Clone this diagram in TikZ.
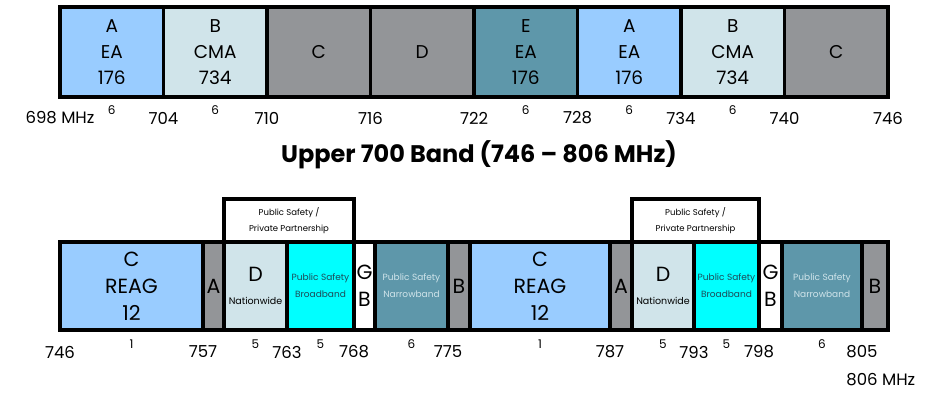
\documentclass[tikz,border=0pt]{standalone}
\usepackage{fontspec}
\setmainfont{Poppins}
\usepackage{tikz}
\usetikzlibrary{positioning,calc}
\definecolor{SkyBlue}{RGB}{153,204,255}
\definecolor{PaleBlue}{RGB}{208,228,234}
\definecolor{BandGray}{RGB}{147,149,152}
\definecolor{DeepTeal}{RGB}{94,151,170}
\definecolor{DarkTeal}{RGB}{30,75,88}
\definecolor{BrightCyan}{RGB}{0,255,255}
\tikzset{
  blk/.style={draw=black,line width=3.2pt,outer sep=0pt,inner sep=0pt,
    minimum height=90,align=center,font=\fontsize{18.5}{26}\selectfont},
  lowblk/.style={blk,minimum height=88,font=\fontsize{20.5}{27}\selectfont},
  psbox/.style={lowblk,font=\fontsize{9}{17}\selectfont},
  pp/.style={draw=black,line width=3.2pt,outer sep=0pt,inner sep=0pt,
    fill=white,minimum height=43,align=center,font=\fontsize{8.5}{16}\selectfont},
  freq/.style={inner sep=0pt,font=\fontsize{16.5}{16.5}\selectfont},
  bw/.style={inner sep=0pt,font=\fontsize{12}{12}\selectfont},
  ttl/.style={inner sep=0pt,font=\fontsize{24}{24}\selectfont\bfseries},
  rim/.style={draw=black,line width=4pt}
}
\begin{document}
\begin{tikzpicture}[x=1pt,y=-1pt,node distance=0pt]
  \useasboundingbox (0,0) rectangle (944,392);
  % lower 700 band
  \node[blk,fill=SkyBlue,minimum width=103.5] (ta1) at (111.75,52) {A\\EA\\176};
  \node[blk,fill=PaleBlue,minimum width=103.5,right=of ta1] (tb1) {B\\CMA\\734};
  \node[blk,fill=BandGray,minimum width=103.5,right=of tb1] (tc1) {C};
  \node[blk,fill=BandGray,minimum width=103.5,right=of tc1] (td1) {D};
  \node[blk,fill=DeepTeal,minimum width=103.5,right=of td1] (te) {E\\EA\\176};
  \node[blk,fill=SkyBlue,minimum width=103.5,right=of te] (ta2) {A\\EA\\176};
  \node[blk,fill=PaleBlue,minimum width=103.5,right=of ta2] (tb2) {B\\CMA\\734};
  \node[blk,fill=BandGray,minimum width=103.5,right=of tb2] (tc2) {C};
  \draw[rim] (ta1.north west) rectangle (tc2.south east);
  \foreach \n/\f in {ta1/698 MHz,tb1/704,tc1/710,td1/716,te/722,ta2/728,tb2/734,tc2/740}
    \node[freq,yshift=-21pt] at (\n.south west) {\f};
  \node[freq,yshift=-21pt] at (tc2.south east) {746};
  \foreach \n in {ta1,tb1,te,ta2,tb2}
    \node[bw,yshift=-13pt] at (\n.south) {6};

  \node[ttl] (title) at (479,155) {Upper 700 Band (746 – 806 MHz)};

  % upper 700 band
  \node[lowblk,fill=SkyBlue,minimum width=143] (bc1) at (131.5,286) {C\\REAG\\12};
  \node[lowblk,fill=BandGray,minimum width=21,right=of bc1] (ba1) {A};
  \node[lowblk,fill=PaleBlue,minimum width=63,right=of ba1] (bd1)
    {D\\[-4pt]{\fontsize{9.5}{10}\selectfont Nationwide}};
  \node[psbox,fill=BrightCyan,text=DarkTeal,minimum width=67,right=of bd1] (bp1)
    {Public Safety\\Broadband};
  \node[lowblk,fill=white,minimum width=21,right=of bp1] (bg1) {G\\B};
  \node[psbox,fill=DeepTeal,text=PaleBlue,minimum width=73,right=of bg1] (bn1)
    {Public Safety\\Narrowband};
  \node[lowblk,fill=BandGray,minimum width=22,right=of bn1] (bb1) {B};
  \node[lowblk,fill=SkyBlue,minimum width=140,right=of bb1] (bc2) {C\\REAG\\12};
  \node[lowblk,fill=BandGray,minimum width=22,right=of bc2] (ba2) {A};
  \node[lowblk,fill=PaleBlue,minimum width=62,right=of ba2] (bd2)
    {D\\[-4pt]{\fontsize{9.5}{10}\selectfont Nationwide}};
  \node[psbox,fill=BrightCyan,text=DarkTeal,minimum width=65,right=of bd2] (bp2)
    {Public Safety\\Broadband};
  \node[lowblk,fill=white,minimum width=23,right=of bp2] (bg2) {G\\B};
  \node[psbox,fill=DeepTeal,text=PaleBlue,minimum width=80,right=of bg2] (bn2)
    {Public Safety\\Narrowband};
  \node[lowblk,fill=BandGray,minimum width=26,right=of bn2] (bb2) {B};
  \draw[rim] (bc1.north west) rectangle (bb2.south east);

  % partnership boxes
  \node[pp,minimum width=130,anchor=south west] (pp1) at (bd1.north west)
    {Public Safety /\\Private Partnership};
  \node[pp,minimum width=127,anchor=south west] (pp2) at (bd2.north west)
    {Public Safety /\\Private Partnership};

  \node[freq,yshift=-22pt] at (bc1.south west) {746};
  \foreach \n/\f in {bc1/757,bd1/763,bp1/768,bn1/775,bc2/787,bd2/793,bp2/798}
    \node[freq,yshift=-22pt] at (\n.south east) {\f};
  \node[freq,yshift=-22pt] (f805) at (bn2.south east) {805};
  \node[freq,anchor=west] (f806) at ([yshift=-28pt]f805.west) {806 MHz};
  \foreach \n/\w in {bc1/1,bd1/5,bp1/5,bn1/6,bc2/1,bd2/5,bp2/5,bn2/6}
    \node[bw,yshift=-14pt] at (\n.south) {\w};
\end{tikzpicture}
\end{document}
